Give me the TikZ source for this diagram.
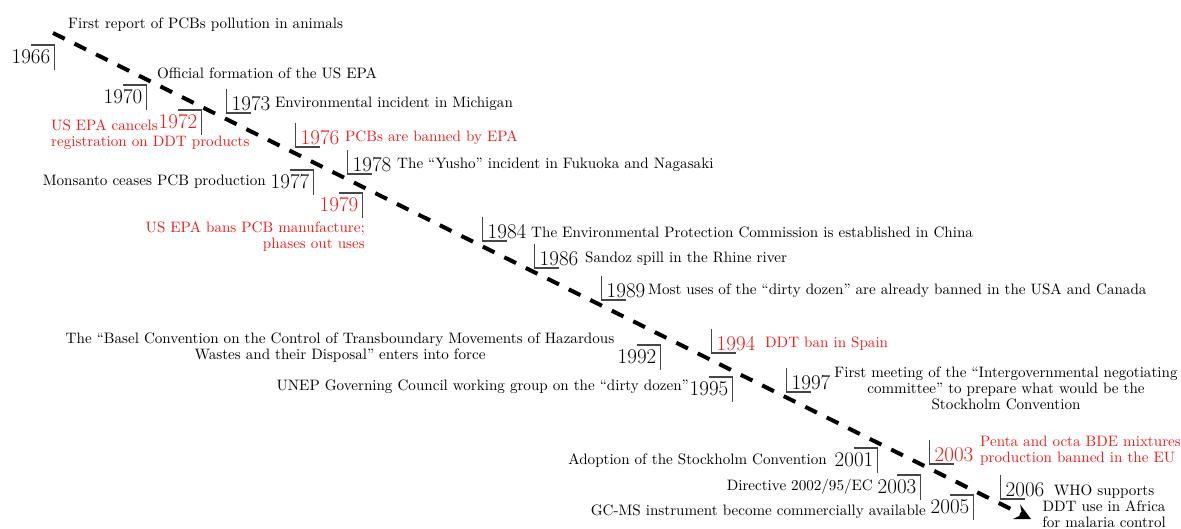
\documentclass[tikz,border=0pt]{standalone}
\usepackage{fontspec}
\newfontfamily\dsfam{lmroman10-regular.otf}
\usetikzlibrary{calc,arrows.meta}
\definecolor{tred}{RGB}{240,25,25}
\definecolor{brkgray}{RGB}{70,70,70}
\tikzset{
  yr/.style={inner sep=0pt, font=\fontsize{21}{22}\selectfont},
  ds/.style={inner sep=0pt, font=\dsfam\fontsize{15.1}{16}\selectfont},
  rd/.style={text=tred},
  brk/.style={draw=brkgray, line width=1.5pt},
  tline/.style={line width=4pt, dash pattern=on 13pt off 11pt, -{Stealth[length=16pt,width=16pt,inset=6pt]}}
}
\newcommand\brR[1]{\draw[brk] ($(#1.west)+(-5,-15)$) |- ($(#1.center)+(0,9)$);}
\newcommand\brL[1]{\draw[brk] ($(#1.center)+(0,-12)$) -| ($(#1.east)+(4,13)$);}
\begin{document}
\begin{tikzpicture}[x=1pt,y=-1pt]
\useasboundingbox (0,0) rectangle (1181,528);
\coordinate (s) at (53,33);
\coordinate (e) at (1031,519);
\draw[tline] (s) -- (e);

% left-type years
\node[yr] (y1966) at (31,57) {1966};
\node[yr] (y1970) at (123,97) {1970};
\node[yr,rd] (y1972) at (178,122) {1972};
\node[yr] (y1977) at (290,182) {1977};
\node[yr,rd] (y1979) at (339,205) {1979};
\node[yr] (y1992) at (637,357) {1992};
\node[yr] (y1995) at (709,389) {1995};
\node[yr] (y2001) at (854,460) {2001};
\node[yr] (y2003b) at (897,487) {2003};
\node[yr] (y2005) at (950,507) {2005};
% right-type years
\node[yr] (y1973) at (251,104) {1973};
\node[yr,rd] (y1976) at (320,138) {1976};
\node[yr] (y1978) at (372,165) {1978};
\node[yr] (y1984) at (507,232) {1984};
\node[yr] (y1986) at (559,259) {1986};
\node[yr] (y1989) at (626,291) {1989};
\node[yr,rd] (y1994) at (736,344) {1994};
\node[yr] (y1997) at (811,383) {1997};
\node[yr,rd] (y2003r) at (954,455) {2003};
\node[yr] (y2006) at (1025,490) {2006};

\foreach \n in {y1966,y1970,y1972,y1977,y1979,y1992,y1995,y2001,y2003b,y2005} {\brL{\n}}
\foreach \n in {y1973,y1976,y1978,y1984,y1986,y1989,y1994,y1997,y2003r,y2006} {\brR{\n}}

% descriptions
\node[ds,anchor=west] (d1966) at (68,25) {First report of PCBs pollution in animals};
\node[ds,anchor=west] (d1970) at (157,73) {Official formation of the US EPA};
\node[ds,anchor=west] (d1973) at (275,104) {Environmental incident in Michigan};
\node[ds,rd,anchor=west,align=left] (d1972) at (51,135) {US EPA cancels\\registration on DDT products};
\node[ds,rd,anchor=west] (d1976) at (345,138) {PCBs are banned by EPA};
\node[ds,anchor=west] (d1978) at (397,165) {The “Yusho” incident in Fukuoka and Nagasaki};
\node[ds,anchor=east] (d1977) at (266,182) {Monsanto ceases PCB production};
\node[ds,rd,anchor=east,align=right] (d1979) at (365,237) {US EPA bans PCB manufacture;\\phases out uses};
\node[ds,anchor=west] (d1984) at (531,232) {The Environmental Protection Commission is established in China};
\node[ds,anchor=west] (d1986) at (585,259) {Sandoz spill in the Rhine river};
\node[ds,anchor=west] (d1989) at (648,291) {Most uses of the “dirty dozen” are already banned in the USA and Canada};
\node[ds,align=center] (d1992) at (340,348) {The “Basel Convention on the Control of Transboundary Movements of Hazardous\\Wastes and their Disposal” enters into force};
\node[ds,rd,anchor=west] (d1994) at (765,344) {DDT ban in Spain};
\node[ds,anchor=east] (d1995) at (689,387) {UNEP Governing Council working group on the “dirty dozen”};
\node[ds,align=center] (d1997) at (1006,388) {First meeting of the “Intergovernmental negotiating\\committee” to prepare what would be the\\Stockholm Convention};
\node[ds,anchor=east] (d2001) at (827,461) {Adoption of the Stockholm Convention};
\node[ds,rd,anchor=west,align=left] (d2003r) at (980,451) {Penta and octa BDE mixtures\\production banned in the EU};
\node[ds,anchor=east] (d2003b) at (873,487) {Directive 2002/95/EC};
\node[ds,anchor=east] (d2005) at (926,512) {GC-MS instrument become commercially available};
\node[ds,align=center] (d2006) at (1104,506) {WHO supports\\DDT use in Africa\\for malaria control};
\end{tikzpicture}
\end{document}
